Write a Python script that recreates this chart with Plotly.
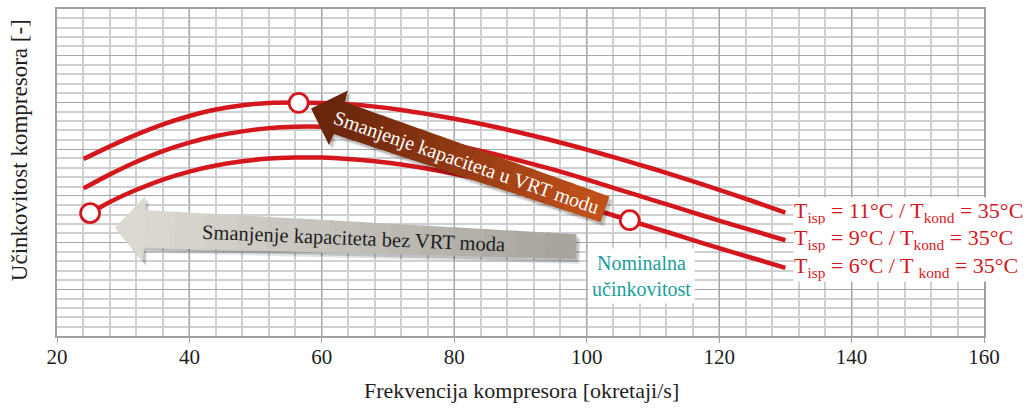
import numpy as np
import plotly.graph_objects as go

# ---------------- data ----------------
freq = [24, 28, 32, 36, 40, 44, 48, 52, 56, 60, 64, 68, 72, 76, 80, 85, 90, 95,
        100, 105, 110, 115, 120, 125, 130]
eff_11 = [3.79, 4.06, 4.31, 4.53, 4.71, 4.85, 4.94, 4.99, 5.00, 4.99, 4.96, 4.91,
          4.84, 4.75, 4.65, 4.51, 4.35, 4.18, 3.99, 3.79, 3.58, 3.36, 3.13, 2.89, 2.64]
eff_9 = [3.16, 3.46, 3.73, 3.96, 4.14, 4.28, 4.38, 4.45, 4.48, 4.48, 4.45, 4.39,
         4.31, 4.21, 4.09, 3.93, 3.75, 3.56, 3.35, 3.13, 2.91, 2.69, 2.47, 2.26, 2.05]
freq_6 = [25, 28, 32, 36, 40, 44, 48, 52, 56, 60, 64, 68, 72, 76, 80, 85, 90, 95,
          100, 105, 110, 115, 120, 125, 130]
eff_6 = [2.63, 2.87, 3.13, 3.35, 3.52, 3.65, 3.74, 3.80, 3.82, 3.82, 3.79, 3.74,
         3.67, 3.58, 3.47, 3.32, 3.15, 2.96, 2.76, 2.54, 2.32, 2.10, 1.88, 1.67, 1.46]

marker_x = [25, 56.5, 106.5]
marker_y = [2.63, 4.99, 2.48]

series_labels = [
    "T<sub>isp</sub> = 11°C / T<sub>kond</sub> = 35°C",
    "T<sub>isp</sub> = 9°C / T<sub>kond</sub> = 35°C",
    "T<sub>isp</sub> = 6°C / T <sub>kond</sub> = 35°C",
]
x_ticks = [20, 40, 60, 80, 100, 120, 140, 160]
x_title = "Frekvencija kompresora [okretaji/s]"
y_title = "Učinkovitost kompresora [-]"
arrow_vrt_text = "Smanjenje kapaciteta u VRT modu"
arrow_novrt_text = "Smanjenje kapaciteta bez VRT moda"
nominal_text = "Nominalna<br>učinkovitost"

# ---------------- layout geometry ----------------
W, H = 1025, 408
ML, MR, MT, MB = 57, 41, 7, 72
PW, PH = W - ML - MR, H - MT - MB
X0, X1, Y0, Y1 = 20, 160, 0, 7

RED = "#d4171d"
TEAL = "#1b9e9b"
FONT = "Liberation Serif, Times New Roman, serif"


def px2data(px, py):
    return (X0 + (px - ML) / PW * (X1 - X0),
            Y0 + (H - MB - py) / PH * (Y1 - Y0))


def path_of(pts):
    dd = [px2data(p[0], p[1]) for p in pts]
    return "M " + " L ".join(f"{x:.4f},{y:.4f}" for x, y in dd) + " Z"


def mix(c1, c2, t):
    a = [int(c1[i:i + 2], 16) for i in (1, 3, 5)]
    b = [int(c2[i:i + 2], 16) for i in (1, 3, 5)]
    return "rgb(%d,%d,%d)" % tuple(round(a[k] + (b[k] - a[k]) * t) for k in range(3))


def arrow_shapes(tip, tail, hl, hw, bh1, bh2, c_head, c_tail, nseg=14):
    tip = np.array(tip, float)
    tail = np.array(tail, float)
    d = (tail - tip) / np.linalg.norm(tail - tip)
    n = np.array([-d[1], d[0]])
    base = tip + d * hl
    shapes = []
    outline = [tip, base + n * hw, base + n * bh1, tail + n * bh2,
               tail - n * bh2, base - n * bh1, base - n * hw]
    for off, op in (((4, 5), 0.10), ((2.5, 3), 0.16)):
        sh = [p + np.array(off) for p in outline]
        shapes.append(dict(type="path", path=path_of(sh), xref="x", yref="y",
                           fillcolor=f"rgba(0,0,0,{op})", line=dict(width=0),
                           layer="above"))
    for i in range(nseg):
        t0 = i / nseg
        t1 = min((i + 1) / nseg + 0.01, 1.0)
        p0 = base + (tail - base) * t0
        p1 = base + (tail - base) * t1
        w0 = bh1 + (bh2 - bh1) * t0
        w1 = bh1 + (bh2 - bh1) * t1
        pts = [p0 + n * w0, p1 + n * w1, p1 - n * w1, p0 - n * w0]
        col = mix(c_head, c_tail, (t0 + t1) / 2)
        shapes.append(dict(type="path", path=path_of(pts), xref="x", yref="y",
                           fillcolor=col, line=dict(width=0), layer="above"))
    head = [tip, base + n * hw, base + d * 1.0 + n * bh1, base + d * 1.0 - n * bh1,
            base - n * hw]
    shapes.append(dict(type="path", path=path_of(head), xref="x", yref="y",
                       fillcolor=c_head, line=dict(width=0), layer="above"))
    return shapes


fig = go.Figure()

for xs, ys, name in ((freq, eff_11, series_labels[0]),
                     (freq, eff_9, series_labels[1]),
                     (freq_6, eff_6, series_labels[2])):
    fig.add_trace(go.Scatter(x=xs, y=ys, mode="lines", name=name,
                             line=dict(color=RED, width=4.5, shape="spline",
                                       smoothing=0.8),
                             hoverinfo="skip", showlegend=False))

fig.add_trace(go.Scatter(x=marker_x, y=marker_y, mode="markers",
                         marker=dict(symbol="circle", size=19, color="white",
                                     line=dict(color=RED, width=2.8)),
                         showlegend=False, hoverinfo="skip"))

shapes = []
shapes += arrow_shapes((115, 227), (576, 246), 29, 33, 19, 12.5,
                       "#dcd9d3", "#a6a39d")
shapes += arrow_shapes((311, 107), (605, 208.5), 29, 29, 17, 13.7,
                       "#6a260c", "#c4521b")

annotations = []
for xs, ys, lab in ((freq, eff_11, series_labels[0]),
                    (freq, eff_9, series_labels[1]),
                    (freq_6, eff_6, series_labels[2])):
    annotations.append(dict(x=xs[-1], y=ys[-1], xref="x", yref="y", text=lab,
                            showarrow=False, xanchor="left", yanchor="middle",
                            xshift=8, yshift=1, bgcolor="white", borderpad=0,
                            font=dict(family=FONT, size=22, color=RED)))

bx, by = px2data(466, 161)
annotations.append(dict(x=bx, y=by, xref="x", yref="y", text=arrow_vrt_text,
                        showarrow=False, textangle=19, xanchor="center",
                        yanchor="middle",
                        font=dict(family=FONT, size=20, color="white")))
gx, gy = px2data(353, 238)
annotations.append(dict(x=gx, y=gy, xref="x", yref="y", text=arrow_novrt_text,
                        showarrow=False, textangle=2.4, xanchor="center",
                        yanchor="middle",
                        font=dict(family=FONT, size=20.5, color="#1e1e1e")))
nx, ny = px2data(641, 276)
annotations.append(dict(x=nx, y=ny, xref="x", yref="y", text=nominal_text,
                        showarrow=False, bgcolor="white", borderpad=3,
                        xanchor="center", yanchor="middle",
                        font=dict(family=FONT, size=20, color=TEAL)))

annotations.append(dict(x=(521 - ML) / PW, y=(H - MB - 391) / PH, xref="paper",
                        yref="paper", text=x_title, showarrow=False,
                        xanchor="center", yanchor="middle",
                        font=dict(family=FONT, size=22, color="#1e1e1e")))
annotations.append(dict(x=(19 - ML) / PW, y=(H - MB - 149) / PH, xref="paper",
                        yref="paper", text=y_title, showarrow=False, textangle=-90,
                        xanchor="center", yanchor="middle",
                        font=dict(family=FONT, size=23, color="#1e1e1e")))

fig.update_layout(
    width=W, height=H,
    margin=dict(l=ML, r=MR, t=MT, b=MB, pad=0),
    paper_bgcolor="white", plot_bgcolor="white",
    shapes=shapes, annotations=annotations,
    xaxis=dict(range=[X0, X1], tickvals=x_ticks, ticktext=[str(v) for v in x_ticks],
               showgrid=True, gridcolor="#a8a8a8", gridwidth=1.2,
               minor=dict(dtick=4, tick0=20, showgrid=True, gridcolor="#d0d0d0",
                          gridwidth=1.5),
               ticks="outside", ticklen=5, tickcolor="#a0a0a0", tickwidth=1.2,
               ticklabelstandoff=-4,
               showline=True, linecolor="#a0a0a0", linewidth=1.5, mirror=True,
               zeroline=False,
               tickfont=dict(family=FONT, size=21, color="#1e1e1e")),
    yaxis=dict(range=[Y0, Y1], dtick=1, tick0=0, showticklabels=False,
               showgrid=True, gridcolor="#a8a8a8", gridwidth=1.2,
               minor=dict(dtick=0.2, tick0=0, showgrid=True, gridcolor="#d0d0d0",
                          gridwidth=1.5),
               ticks="", showline=True, linecolor="#a0a0a0", linewidth=1.5,
               mirror=True, zeroline=False),
)

fig.write_html("out.html",
               config={"displayModeBar": False},
               post_script="document.body.style.margin='0';"
                           "document.body.style.padding='0';")
